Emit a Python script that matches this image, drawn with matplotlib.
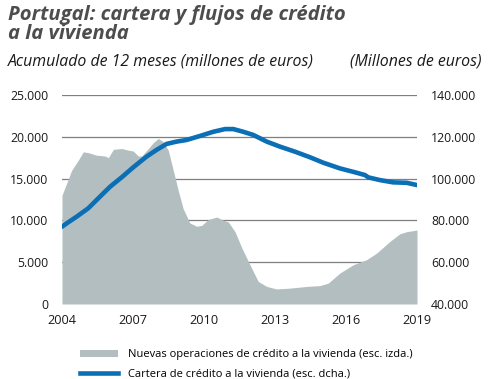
import matplotlib
matplotlib.use("Agg")
import matplotlib.pyplot as plt
from matplotlib.patches import Patch
from matplotlib.lines import Line2D

# --- data ---
flow_years = [2004.0, 2004.41, 2004.69, 2004.9, 2005.11, 2005.46, 2005.82, 2005.96, 2006.17,
              2006.52, 2006.8, 2007.01, 2007.22, 2007.37, 2007.65, 2007.86, 2008.07, 2008.28,
              2008.49, 2008.7, 2008.91, 2009.12, 2009.4, 2009.69, 2009.9, 2010.18, 2010.54,
              2010.75, 2011.03, 2011.31, 2011.6, 2011.94, 2012.29, 2012.65, 2013.07, 2013.63,
              2014.34, 2014.9, 2015.25, 2015.74, 2016.31, 2016.87, 2017.3, 2017.86, 2018.28,
              2018.56, 2019.0]
flow_values = [13000, 16000, 17200, 18200, 18100, 17800, 17700, 17500, 18500,
               18600, 18400, 18300, 17700, 17700, 18600, 19300, 19800, 19400,
               18400, 16000, 13600, 11400, 9700, 9300, 9400, 10100, 10400,
               10100, 9800, 8650, 6700, 4700, 2700, 2100, 1800, 1900,
               2100, 2200, 2500, 3700, 4700, 5300, 6100, 7500, 8400,
               8650, 8850]

stock_years = [2004.0, 2004.2, 2004.62, 2005.11, 2005.6, 2006.03, 2006.52, 2007.01, 2007.57,
               2007.99, 2008.42, 2008.84, 2009.27, 2009.83, 2010.39, 2010.89, 2011.24, 2011.66,
               2012.08, 2012.65, 2013.21, 2013.84, 2014.48, 2015.04, 2015.74, 2016.45, 2016.8,
               2016.94, 2017.43, 2017.99, 2018.56, 2019.0]
stock_values = [77000, 78600, 81800, 85800, 91300, 96100, 100600, 105400, 110500,
                113700, 116600, 117700, 118500, 120400, 122400, 123700, 123700, 122400,
                120900, 117700, 115300, 112900, 110200, 107600, 104900, 102800, 101700,
                100600, 99300, 98200, 98000, 96900]

x_ticks = [2004, 2007, 2010, 2013, 2016, 2019]
left_ticks = [0, 5000, 10000, 15000, 20000, 25000]
right_ticks = [40000, 60000, 80000, 100000, 120000, 140000]

title = "Portugal: cartera y flujos de crédito\na la vivienda"
subtitle_left = "Acumulado de 12 meses (millones de euros)"
subtitle_right = "(Millones de euros)"
label_flow = "Nuevas operaciones de crédito a la vivienda (esc. izda.)"
label_stock = "Cartera de crédito a la vivienda (esc. dcha.)"

AREA = "#b3bec1"
BLUE = "#0b6fb6"
GRID = "#7f7f7f"
FONT = ["Open Sans", "DejaVu Sans"]

def fmt(v):
    return f"{v:,.0f}".replace(",", ".")

plt.rcParams["font.family"] = FONT
fig = plt.figure(figsize=(4.89, 3.79), dpi=100)
ax = fig.add_axes([62/489, 1-304/379, (417-62)/489, (304-95)/379])
ax2 = ax.twinx()

ax.fill_between(flow_years, flow_values, 0, color=AREA, lw=0, zorder=2)
ax.set_xlim(2004, 2019)
ax.set_ylim(0, 25000)
ax.set_yticks(left_ticks)
ax.set_yticklabels([fmt(v) for v in left_ticks])
ax.set_xticks(x_ticks)
ax.set_xticklabels([str(v) for v in x_ticks])
ax.grid(axis="y", color=GRID, lw=0.9, zorder=1)
ax.set_axisbelow(True)

ax2.plot(stock_years, stock_values, color=BLUE, lw=3.3, solid_capstyle="round", zorder=3)
ax2.set_ylim(40000, 140000)
ax2.set_yticks(right_ticks)
ax2.set_yticklabels([fmt(v) for v in right_ticks])

for a in (ax, ax2):
    for s in a.spines.values():
        s.set_visible(False)
    a.tick_params(length=0, labelsize=8.8, colors="#1a1a1a")
ax.tick_params(axis="y", pad=10)
ax.tick_params(axis="x", pad=7, labelsize=9.2)
ax2.tick_params(axis="y", pad=10)

fig.text(8/489, 1-5/379, title, ha="left", va="top", fontsize=14.6,
         fontweight="bold", fontstyle="italic", color="#4d4d4d", linespacing=0.92)
fig.text(8/489, 1-62/379, subtitle_left, ha="left", va="center", fontsize=11.4,
         fontstyle="italic", color="#1a1a1a")
fig.text(482/489, 1-62/379, subtitle_right, ha="right", va="center", fontsize=11.4,
         fontstyle="italic", color="#1a1a1a")

handles = [Patch(facecolor=AREA, edgecolor="none"),
           Line2D([0], [0], color=BLUE, lw=3.3)]
fig.legend(handles, [label_flow, label_stock], loc="upper left",
           bbox_to_anchor=(70/489, 1-339/379), frameon=False, fontsize=8.0,
           handlelength=3.4, handleheight=0.6, handletextpad=0.9, labelspacing=0.75)

fig.savefig("out.png", dpi=100)
